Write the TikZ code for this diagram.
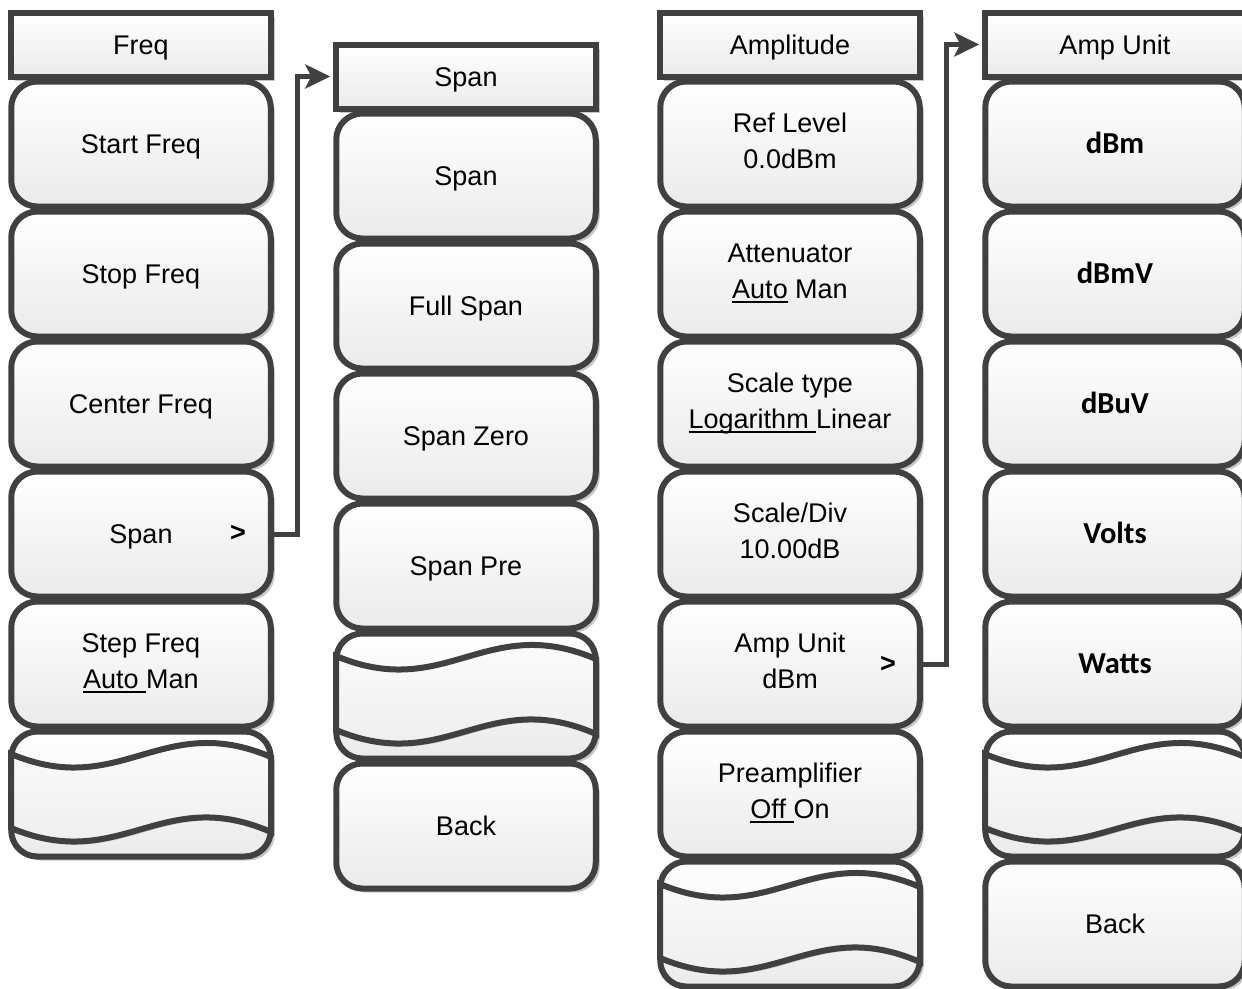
\documentclass[tikz,border=0pt]{standalone}
\usepackage{fontspec}
\setmainfont{Liberation Sans}
\newfontfamily\calib{Carlito}
\usetikzlibrary{shadows,arrows.meta}
\definecolor{edge}{HTML}{404040}
\tikzset{
  base/.style={draw=edge, line width=6pt, top color=white, bottom color=black!8,
    drop shadow={shadow xshift=4pt,shadow yshift=-4pt,fill=black!22,opacity=1},
    minimum width=259.5pt, inner sep=0pt, text height=19.3pt, text depth=0pt,
    font=\fontsize{27pt}{35pt}\selectfont},
  hdr/.style={base, minimum height=64pt},
  btn/.style={base, rounded corners=26pt, minimum height=125pt},
  bbtn/.style={btn, text height=19.6pt, font=\calib\bfseries\fontsize{30.5pt}{36pt}\selectfont},
  wavefill/.style={draw=edge, line width=6pt, top color=white, bottom color=black!8,
    drop shadow={shadow xshift=3pt,shadow yshift=-3pt,fill=black!22,opacity=1}},
  gtsign/.style={font=\bfseries\fontsize{27pt}{35pt}\selectfont, inner sep=0pt},
  conn/.style={draw=edge, line width=5pt, -{Stealth[length=25pt,width=24pt,inset=6pt]}}
}
\newcommand{\two}[2]{\makebox[0pt]{\raisebox{21.5pt}[0pt][0pt]{#1}}\makebox[0pt]{\raisebox{-14.5pt}[0pt][0pt]{#2}}}
\newcommand{\ulin}[1]{\setbox0\hbox{#1}\rlap{\rule[-5pt]{\wd0}{2.3pt}}\box0\relax}
\newcommand{\wavein}[1]{%
  \begin{scope}[shift={(#1.center)}]
    \path[wavefill] (-130,-40) .. controls (-20,6) and (20,-84) .. (130,-37)
      -- (130,38) .. controls (20,-10) and (-20,80) .. (-130,34) -- cycle;
  \end{scope}}
\begin{document}
\begin{tikzpicture}[x=1pt,y=-1pt]
\useasboundingbox (0,0) rectangle (1242,988);
% column 1
\node[hdr] (c1h) at (141,44.5) {Freq};
\node[btn] (c1b0) at (141,144) {Start Freq};
\node[btn] (c1b1) at (141,274) {Stop Freq};
\node[btn] (c1b2) at (141,404) {Center Freq};
\node[btn] (c1b3) at (141,534) {Span};
\node[btn] (c1b4) at (141,664) {\two{Step Freq}{\ulin{Auto\ }Man}};
\node[btn] (c1b5) at (141,794) {};
\wavein{c1b5}
\node[gtsign] (m1) at (238,533) {>};
% column 2
\node[hdr] (c2h) at (466,76.5) {Span};
\node[btn] (c2b0) at (466,176) {Span};
\node[btn] (c2b1) at (466,306) {Full Span};
\node[btn] (c2b2) at (466,436) {Span Zero};
\node[btn] (c2b3) at (466,566) {Span Pre};
\node[btn] (c2b4) at (466,696) {};
\wavein{c2b4}
\node[btn] (c2b5) at (466,826) {Back};
% column 3
\node[hdr] (c3h) at (790,44.5) {Amplitude};
\node[btn] (c3b0) at (790,144) {\two{Ref Level}{0.0dBm}};
\node[btn] (c3b1) at (790,274) {\two{Attenuator}{\ulin{Auto} Man}};
\node[btn] (c3b2) at (790,404) {\two{Scale type}{\ulin{Logarithm\ }Linear}};
\node[btn] (c3b3) at (790,534) {\two{Scale/Div}{10.00dB}};
\node[btn] (c3b4) at (790,664) {\two{Amp Unit}{dBm}};
\node[btn] (c3b5) at (790,794) {\two{Preamplifier}{\ulin{Off\ }On}};
\node[btn] (c3b6) at (790,924) {};
\wavein{c3b6}
\node[gtsign] (m2) at (888,664) {>};
% column 4
\node[hdr] (c4h) at (1115,44.5) {Amp Unit};
\node[bbtn] (c4b0) at (1115,144) {dBm};
\node[bbtn] (c4b1) at (1115,274) {dBmV};
\node[bbtn] (c4b2) at (1115,404) {dBuV};
\node[bbtn] (c4b3) at (1115,534) {Volts};
\node[bbtn] (c4b4) at (1115,664) {Watts};
\node[btn] (c4b5) at (1115,794) {};
\wavein{c4b5}
\node[btn] (c4b6) at (1115,924) {Back};
% connectors
\draw[conn] (c1b3.east) -- ++(24,0) |- ([xshift=-3pt]c2h.west);
\draw[conn] (c3b4.east) -- ++(24,0) |- ([xshift=-3pt]c4h.west);
\end{tikzpicture}
\end{document}
